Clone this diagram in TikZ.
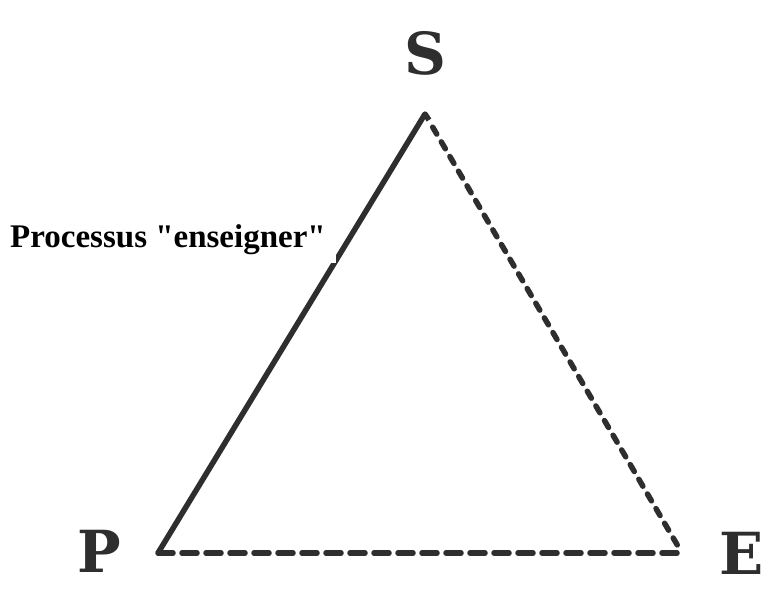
\documentclass[tikz,border=0pt]{standalone}
\usepackage{fontspec}
\setmainfont{Liberation Serif}
\newfontfamily\vertexfont{DejaVu Serif}
\usetikzlibrary{calc}
\definecolor{inkgray}{HTML}{2E2E2E}
\tikzset{
  vertex/.style={inkgray,font=\vertexfont\bfseries\fontsize{58}{60}\selectfont,inner sep=0pt},
  sidesolid/.style={inkgray,line width=5.5pt,line join=round},
  sidedashed/.style={inkgray,line width=5.5pt,line cap=round,dash pattern=on 8pt off 9pt},
  sidelong/.style={inkgray,line width=5.5pt,line cap=round,dash pattern=on 15pt off 9pt}
}
\begin{document}
\begin{tikzpicture}[x=1pt,y=-1pt]
\useasboundingbox (0,0) rectangle (776,592);
\coordinate (s) at (425,114);
\coordinate (p) at (158,553);
\coordinate (e) at (682,553);
\node[vertex] (S) at (425,53) {S};
\node[vertex] (P) at (99,551) {P};
\node[vertex] (E) at (742,553) {E};
\draw[sidesolid] (p) -- (s) -- ++(4,6);
\draw[sidedashed] ($(s)!0.03!(e)$) -- ($(e)!0.01!(s)$);
\draw[sidelong] (p) -- (e);
% label box hides a piece of the solid side
\node[fill=white,anchor=east,font=\bfseries\fontsize{33}{35}\selectfont,
      inner xsep=10pt,minimum height=46pt] (label) at (336,240)
      {Processus \textquotedbl enseigner\textquotedbl};
\end{tikzpicture}
\end{document}
